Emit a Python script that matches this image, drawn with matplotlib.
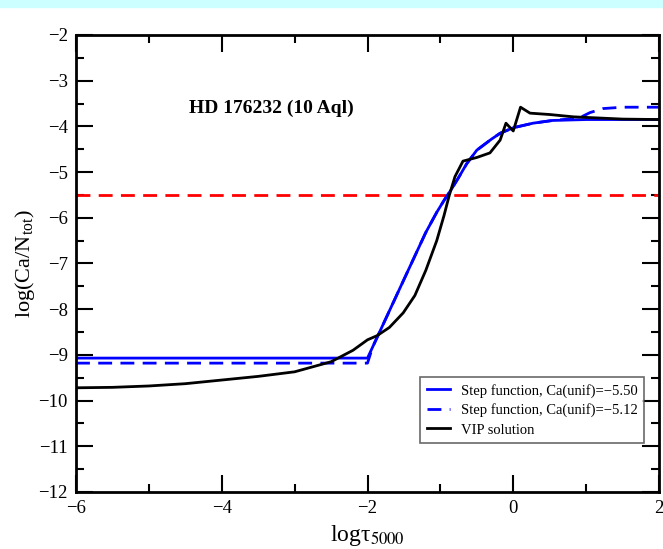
import matplotlib.pyplot as plt
from matplotlib.patches import Rectangle

plt.rcParams['font.family'] = ['Liberation Serif', 'DejaVu Serif']
plt.rcParams['mathtext.fontset'] = 'stix'

# step function, Ca(unif) = -5.50
step1_x = [-6, -2.0, -1.5, -1.2, -1.05, -0.95, -0.85, -0.75, -0.64, -0.5, -0.3, -0.18, 0.0, 0.27, 0.54, 1.0, 2.0]
step1_y = [-9.07, -9.07, -7.35, -6.32, -5.88, -5.62, -5.38, -5.12, -4.82, -4.52, -4.28, -4.15, -4.03, -3.93, -3.87, -3.85, -3.85]

# step function, Ca(unif) = -5.12
step2_x = [-6, -2.0, -1.93, -1.5, -1.2, -1.05, -0.95, -0.85, -0.75, -0.64, -0.5, -0.3, -0.18, 0.0, 0.27, 0.54,
           0.9, 1.05, 1.23, 1.5, 2.0]
step2_y = [-9.18, -9.18, -8.83, -7.35, -6.32, -5.88, -5.62, -5.38, -5.12, -4.82, -4.52, -4.28, -4.15, -4.03, -3.93, -3.87,
           -3.82, -3.7, -3.61, -3.58, -3.58]

# VIP solution
vip_x = [-6, -5.5, -5, -4.5, -4, -3.5, -3, -2.5, -2.2, -2.0, -1.87, -1.7, -1.51, -1.35, -1.2, -1.05, -0.95,
         -0.88, -0.8, -0.69, -0.5, -0.32, -0.18, -0.1, 0.0, 0.1, 0.23, 0.5, 0.82, 1.5, 2.0]
vip_y = [-9.72, -9.71, -9.68, -9.63, -9.55, -9.47, -9.37, -9.15, -8.9, -8.67, -8.58, -8.4, -8.08, -7.7, -7.15,
         -6.5, -5.95, -5.52, -5.1, -4.76, -4.68, -4.58, -4.3, -3.93, -4.1, -3.58, -3.71, -3.74, -3.79, -3.84, -3.85]

ca_unif = -5.5

fig = plt.figure(figsize=(6.63, 5.49), dpi=100)
fig.patches.append(Rectangle((0, 1 - 7 / 549), 1, 7 / 549, transform=fig.transFigure,
                             color='#ccffff', zorder=0))
ax = fig.add_axes([76 / 663, 1 - 492 / 549, 583 / 663, 457 / 549])

ax.axhline(ca_unif, color='#ff0000', ls=(0, (5, 3)), lw=2)
ax.plot(step1_x, step1_y, color='#0000ff', lw=2, label='Step function, Ca(unif)=\u22125.50')
ax.plot(step2_x, step2_y, color='#0000ff', lw=2, ls=(0, (5, 3)), label='Step function, Ca(unif)=\u22125.12')
ax.plot(vip_x, vip_y, color='black', lw=2, label='VIP solution')

ax.set_xlim(-6, 2)
ax.set_ylim(-12, -2)
ax.set_xticks([-6, -4, -2, 0, 2])
ax.set_xticks([-5, -3, -1, 1], minor=True)
ax.set_yticks(range(-12, -1))
ax.set_yticks([v + 0.5 for v in range(-12, -2)], minor=True)
ax.tick_params(which='both', direction='in', top=True, right=True, labelsize=13.5, width=1.5, pad=6)
ax.tick_params(which='major', length=12)
ax.tick_params(which='minor', length=6)
for s in ax.spines.values():
    s.set_linewidth(2)

ax.set_xlabel(r'log$\mathregular{\tau}_{5000}$', fontsize=17, labelpad=4)
ax.set_ylabel(r'log(Ca/N$_{\mathregular{tot}}$)', fontsize=16, labelpad=1)

ax.text(-4.45, -3.6, 'HD 176232 (10 Aql)', fontsize=14, fontweight='bold', va='center')

leg = ax.legend(loc='lower right', bbox_to_anchor=(0.974, 0.107), fontsize=10.5, frameon=True,
                fancybox=False, edgecolor='#444444', handlelength=1.6, handletextpad=0.7,
                borderpad=0.45, labelspacing=0.4, borderaxespad=0)
leg.get_frame().set_linewidth(1.2)

fig.savefig('out.png', dpi=100)
